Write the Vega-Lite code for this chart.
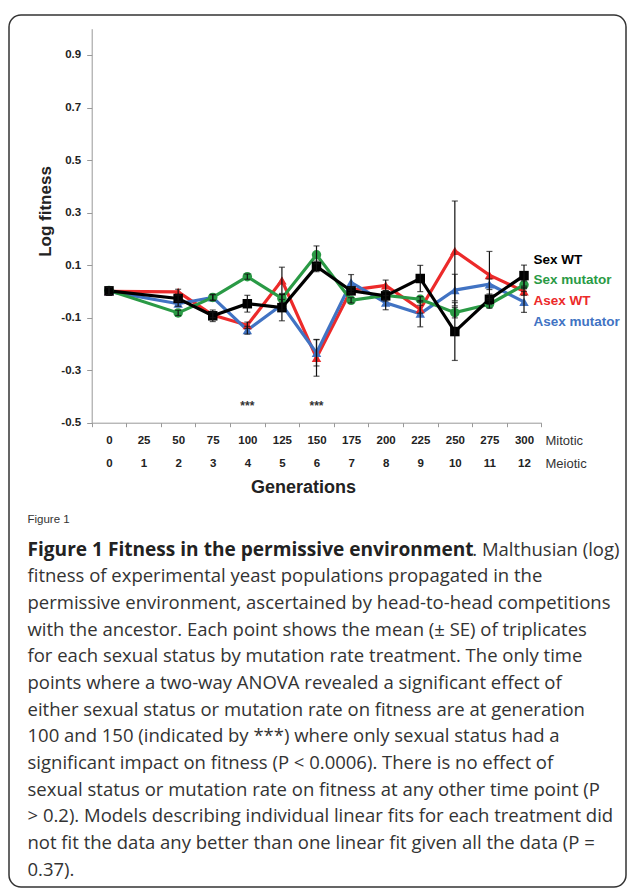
{
  "$schema": "https://vega.github.io/schema/vega-lite/v6.json",
  "width": 617,
  "height": 872,
  "autosize": {"type": "none"},
  "padding": {"left": 9, "top": 15, "right": 3, "bottom": 4},
  "background": "white",
  "datasets": {
    "fit": [
      {"gen": 0, "series": "Asex WT", "v": 0.0, "lo": -0.015, "hi": 0.015},
      {"gen": 50, "series": "Asex WT", "v": -0.002, "lo": -0.012, "hi": 0.008},
      {"gen": 75, "series": "Asex WT", "v": -0.09, "lo": -0.1, "hi": -0.08},
      {"gen": 100, "series": "Asex WT", "v": -0.129, "lo": -0.141, "hi": -0.117},
      {"gen": 125, "series": "Asex WT", "v": 0.042, "lo": -0.008, "hi": 0.092},
      {"gen": 150, "series": "Asex WT", "v": -0.253, "lo": -0.323, "hi": -0.183},
      {"gen": 175, "series": "Asex WT", "v": 0.005, "lo": -0.005, "hi": 0.015},
      {"gen": 200, "series": "Asex WT", "v": 0.023, "lo": 0.003, "hi": 0.043},
      {"gen": 225, "series": "Asex WT", "v": -0.068, "lo": -0.083, "hi": -0.053},
      {"gen": 250, "series": "Asex WT", "v": 0.154, "lo": -0.036, "hi": 0.344},
      {"gen": 275, "series": "Asex WT", "v": 0.062, "lo": -0.028, "hi": 0.152},
      {"gen": 300, "series": "Asex WT", "v": 0.0, "lo": -0.015, "hi": 0.015},
      {"gen": 0, "series": "Asex mutator", "v": 0.0, "lo": -0.015, "hi": 0.015},
      {"gen": 50, "series": "Asex mutator", "v": -0.047, "lo": -0.057, "hi": -0.037},
      {"gen": 75, "series": "Asex mutator", "v": -0.023, "lo": -0.033, "hi": -0.013},
      {"gen": 100, "series": "Asex mutator", "v": -0.148, "lo": -0.163, "hi": -0.133},
      {"gen": 125, "series": "Asex mutator", "v": -0.051, "lo": -0.071, "hi": -0.031},
      {"gen": 150, "series": "Asex mutator", "v": -0.234, "lo": -0.284, "hi": -0.184},
      {"gen": 175, "series": "Asex mutator", "v": 0.034, "lo": 0.004, "hi": 0.064},
      {"gen": 200, "series": "Asex mutator", "v": -0.043, "lo": -0.07, "hi": -0.016},
      {"gen": 225, "series": "Asex mutator", "v": -0.085, "lo": -0.135, "hi": -0.035},
      {"gen": 250, "series": "Asex mutator", "v": 0.005, "lo": -0.055, "hi": 0.065},
      {"gen": 275, "series": "Asex mutator", "v": 0.027, "lo": 0.007, "hi": 0.047},
      {"gen": 300, "series": "Asex mutator", "v": -0.04, "lo": -0.08, "hi": 0.0},
      {"gen": 0, "series": "Sex mutator", "v": 0.003, "lo": -0.012, "hi": 0.018},
      {"gen": 50, "series": "Sex mutator", "v": -0.082, "lo": -0.092, "hi": -0.072},
      {"gen": 75, "series": "Sex mutator", "v": -0.023, "lo": -0.035, "hi": -0.011},
      {"gen": 100, "series": "Sex mutator", "v": 0.056, "lo": 0.046, "hi": 0.066},
      {"gen": 125, "series": "Sex mutator", "v": -0.027, "lo": -0.042, "hi": -0.012},
      {"gen": 150, "series": "Sex mutator", "v": 0.139, "lo": 0.105, "hi": 0.173},
      {"gen": 175, "series": "Sex mutator", "v": -0.034, "lo": -0.044, "hi": -0.024},
      {"gen": 200, "series": "Sex mutator", "v": -0.015, "lo": -0.03, "hi": 0.0},
      {"gen": 225, "series": "Sex mutator", "v": -0.03, "lo": -0.04, "hi": -0.02},
      {"gen": 250, "series": "Sex mutator", "v": -0.081, "lo": -0.101, "hi": -0.061},
      {"gen": 275, "series": "Sex mutator", "v": -0.049, "lo": -0.064, "hi": -0.034},
      {"gen": 300, "series": "Sex mutator", "v": 0.025, "lo": 0.01, "hi": 0.04},
      {"gen": 0, "series": "Sex WT", "v": 0.002, "lo": -0.013, "hi": 0.017},
      {"gen": 50, "series": "Sex WT", "v": -0.027, "lo": -0.039, "hi": -0.015},
      {"gen": 75, "series": "Sex WT", "v": -0.093, "lo": -0.115, "hi": -0.071},
      {"gen": 100, "series": "Sex WT", "v": -0.047, "lo": -0.079, "hi": -0.015},
      {"gen": 125, "series": "Sex WT", "v": -0.062, "lo": -0.112, "hi": -0.012},
      {"gen": 150, "series": "Sex WT", "v": 0.095, "lo": 0.075, "hi": 0.115},
      {"gen": 175, "series": "Sex WT", "v": 0.002, "lo": -0.01, "hi": 0.014},
      {"gen": 200, "series": "Sex WT", "v": -0.017, "lo": -0.037, "hi": 0.003},
      {"gen": 225, "series": "Sex WT", "v": 0.049, "lo": -0.001, "hi": 0.099},
      {"gen": 250, "series": "Sex WT", "v": -0.153, "lo": -0.263, "hi": -0.043},
      {"gen": 275, "series": "Sex WT", "v": -0.03, "lo": -0.05, "hi": -0.01},
      {"gen": 300, "series": "Sex WT", "v": 0.06, "lo": 0.02, "hi": 0.1}
    ],
    "sig": [
      {"gen": 100, "y": -0.435, "t": "***"},
      {"gen": 150, "y": -0.435, "t": "***"}
    ]
  },
  "resolve": {"axis": {"x": "independent", "y": "independent"}},
  "layer": [
    {
      "data": {"name": "fit"},
      "mark": {"type": "line", "strokeWidth": 3.2},
      "encoding": {
        "x": {
          "field": "gen", "type": "ordinal",
          "scale": {"type": "band", "domain": [0, 25, 50, 75, 100, 125, 150, 175, 200, 225, 250, 275, 300], "range": [82.7, 532.3], "paddingInner": 0, "paddingOuter": 0},
          "axis": {
            "orient": "bottom", "offset": -464.3, "grid": false,
            "title": "Generations", "titleX": 294, "titleY": 64.3, "titleAlign": "center", "titleBaseline": "middle", "titleAngle": 0,
            "titleFont": "Liberation Sans", "titleFontSize": 18, "titleFontWeight": "bold", "titleColor": "#222",
            "tickBand": "extent", "tickSize": 4, "tickColor": "#999", "domainColor": "#999",
            "labelAngle": 0, "labelFont": "Liberation Sans", "labelFontSize": 11.5, "labelFontWeight": "bold", "labelColor": "#222",
            "labelBaseline": "top", "labelPadding": 8, "labelLineHeight": 23, "labelOverlap": false, "labelFlush": false,
            "labelExpr": "datum.label ? [datum.label, '' + (datum.value / 25)] : ''"
          }
        },
        "y": {
          "field": "v", "type": "quantitative",
          "scale": {"domain": [-0.5, 1.0], "range": [407.7, 13.7], "nice": false, "zero": false},
          "axis": {
            "orient": "left", "offset": -82.7, "grid": false,
            "values": [-0.5, -0.3, -0.1, 0.1, 0.3, 0.5, 0.7, 0.9],
            "labelExpr": "'' + datum.value",
            "title": "Log fitness", "titleX": -45.7, "titleY": 196, "titleAngle": -90, "titleAlign": "center", "titleBaseline": "middle",
            "titleFont": "Liberation Sans", "titleFontSize": 17, "titleFontWeight": "bold", "titleColor": "#222",
            "tickSize": 5, "tickColor": "#999", "domainColor": "#999",
            "labelFont": "Liberation Sans", "labelFontSize": 11.5, "labelFontWeight": "bold", "labelColor": "#222", "labelPadding": 6
          }
        },
        "color": {
          "field": "series", "type": "nominal",
          "scale": {"domain": ["Sex WT", "Sex mutator", "Asex WT", "Asex mutator"], "range": ["#000000", "#2a9a45", "#ec2a2a", "#4173c3"]},
          "legend": {
            "orient": "none", "legendX": 511, "legendY": 238, "title": null, "padding": 0,
            "symbolSize": 0, "symbolOpacity": 0, "symbolStrokeWidth": 0, "labelOffset": 0,
            "labelFont": "Liberation Sans", "labelFontSize": 13.5, "labelFontWeight": "bold", "rowPadding": 5.6, "labelLimit": 200,
            "encode": {"labels": {"update": {"fill": {"scale": "color", "field": "value"}}}}
          }
        }
      }
    },
    {
      "data": {"name": "fit"},
      "mark": {"type": "point", "filled": true, "opacity": 1, "size": 90},
      "encoding": {
        "x": {
          "field": "gen", "type": "ordinal",
          "axis": {
            "orient": "top", "offset": 0, "domain": false, "ticks": false, "labels": false, "grid": false,
            "title": [
              "fitness of experimental yeast populations propagated in the",
              "permissive environment, ascertained by head-to-head competitions",
              "with the ancestor. Each point shows the mean (± SE) of triplicates",
              "for each sexual status by mutation rate treatment. The only time",
              "points where a two-way ANOVA revealed a significant effect of",
              "either sexual status or mutation rate on fitness are at generation",
              "100 and 150 (indicated by ***) where only sexual status had a",
              "significant impact on fitness (P < 0.0006). There is no effect of",
              "sexual status or mutation rate on fitness at any other time point (P",
              "> 0.2). Models describing individual linear fits for each treatment did",
              "not fit the data any better than one linear fit given all the data (P =",
              "0.37)."
            ],
            "titleX": 18, "titleY": 566.7, "titleAlign": "left", "titleBaseline": "alphabetic", "titleAngle": 0,
            "titleFont": "Open Sans", "titleFontSize": 18.5, "titleFontWeight": "normal", "titleLineHeight": 26.7, "titleColor": "#333", "titleLimit": 3000
          }
        },
        "y": {
          "field": "v", "type": "quantitative",
          "axis": {
            "orient": "right", "offset": 0, "domain": false, "ticks": false, "labels": false, "grid": false,
            "title": ". Malthusian (log)", "titleX": -7, "titleY": 540, "titleAlign": "right", "titleBaseline": "alphabetic", "titleAngle": 0,
            "titleFont": "Open Sans", "titleFontSize": 18.5, "titleFontWeight": "normal", "titleColor": "#333", "titleLimit": 3000
          }
        },
        "color": {"field": "series", "type": "nominal", "legend": null},
        "shape": {
          "field": "series", "type": "nominal", "legend": null,
          "scale": {"domain": ["Sex WT", "Sex mutator", "Asex WT", "Asex mutator"], "range": ["square", "circle", "triangle-up", "triangle-up"]}
        }
      }
    },
    {
      "data": {"name": "fit"},
      "mark": {"type": "rule", "color": "#111", "strokeWidth": 1.2},
      "encoding": {
        "x": {
          "field": "gen", "type": "ordinal",
          "axis": {
            "orient": "bottom", "offset": 0, "domain": false, "ticks": false, "labels": false, "grid": false,
            "title": "Figure 1", "titleX": 18, "titleY": -365, "titleAlign": "left", "titleBaseline": "alphabetic", "titleAngle": 0,
            "titleFont": "Liberation Sans", "titleFontSize": 11.5, "titleFontWeight": "normal", "titleColor": "#333", "titleLimit": 3000
          }
        },
        "y": {"field": "lo", "type": "quantitative", "axis": null},
        "y2": {"field": "hi"}
      }
    },
    {
      "data": {"name": "fit"},
      "mark": {"type": "tick", "color": "#111", "size": 6, "thickness": 1.2},
      "encoding": {
        "x": {"field": "gen", "type": "ordinal", "axis": null},
        "y": {"field": "lo", "type": "quantitative", "axis": null}
      }
    },
    {
      "data": {"name": "fit"},
      "mark": {"type": "tick", "color": "#111", "size": 6, "thickness": 1.2},
      "encoding": {
        "x": {"field": "gen", "type": "ordinal", "axis": null},
        "y": {"field": "hi", "type": "quantitative", "axis": null}
      }
    },
    {
      "data": {"name": "sig"},
      "mark": {"type": "text", "font": "Liberation Sans", "fontSize": 12, "fontWeight": "bold", "color": "#333"},
      "encoding": {
        "x": {
          "field": "gen", "type": "ordinal",
          "axis": {
            "orient": "top", "offset": 0, "domain": false, "ticks": false, "labels": false, "grid": false,
            "title": ["Mitotic", "Meiotic"], "titleX": 536, "titleY": 429.7, "titleAlign": "left", "titleBaseline": "alphabetic", "titleAngle": 0,
            "titleFont": "Liberation Sans", "titleFontSize": 13, "titleFontWeight": "normal", "titleLineHeight": 23, "titleColor": "#333", "titleLimit": 3000
          }
        },
        "y": {
          "field": "y", "type": "quantitative",
          "axis": {
            "orient": "right", "offset": 0, "domain": false, "ticks": false, "labels": false, "grid": false,
            "title": "Figure 1 Fitness in the permissive environment", "titleX": -599, "titleY": 540, "titleAlign": "left", "titleBaseline": "alphabetic", "titleAngle": 0,
            "titleFont": "Open Sans", "titleFontSize": 19.1, "titleFontWeight": "bold", "titleColor": "#222", "titleLimit": 3000
          }
        },
        "text": {"field": "t"}
      }
    }
  ],
  "config": {
    "view": {"stroke": "#333", "strokeWidth": 1.5, "cornerRadius": 12, "fill": "white"}
  }
}
